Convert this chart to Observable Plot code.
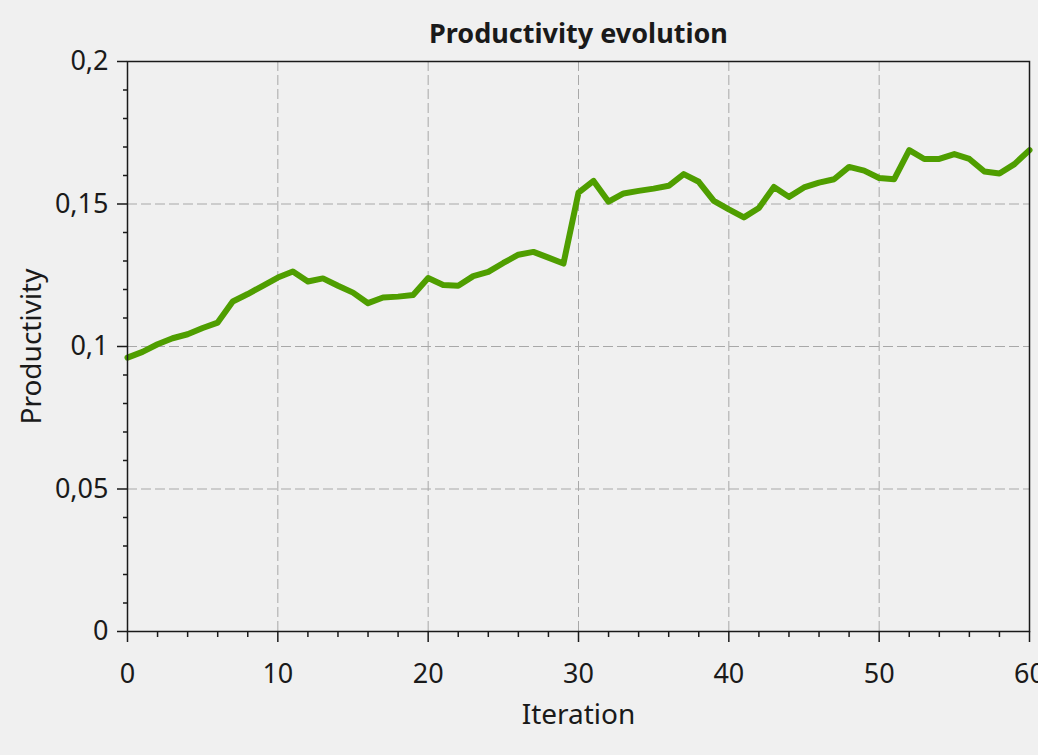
<!DOCTYPE html>
<html><head><meta charset="utf-8">
<script src="https://cdn.jsdelivr.net/npm/d3@7"></script>
<script src="https://cdn.jsdelivr.net/npm/@observablehq/plot@0.6"></script>
<style>
body{margin:0;background:#f0f0f0;}
#chart svg{display:block;}
</style>
</head><body><div id="chart"></div>
<script>
const iterations = [0,1,2,3,4,5,6,7,8,9,10,11,12,13,14,15,16,17,18,19,20,21,22,23,24,25,26,27,28,29,30,31,32,33,34,35,36,37,38,39,40,41,42,43,44,45,46,47,48,49,50,51,52,53,54,55,56,57,58,59,60];
const productivity = [0.0961,0.0981,0.1008,0.1029,0.1043,0.1065,0.1084,0.1158,0.1184,0.1213,0.1242,0.1263,0.1228,0.1239,0.1213,0.1189,0.1152,0.1172,0.1175,0.1181,0.1240,0.1216,0.1213,0.1247,0.1262,0.1293,0.1322,0.1332,0.1312,0.1291,0.1540,0.1581,0.1508,0.1537,0.1546,0.1554,0.1564,0.1605,0.1578,0.1511,0.1481,0.1453,0.1486,0.1560,0.1525,0.1558,0.1575,0.1587,0.1630,0.1617,0.1591,0.1587,0.1689,0.1658,0.1658,0.1675,0.1658,0.1614,0.1607,0.1640,0.1689];
const xTicks = [0,10,20,30,40,50,60];
const xMinorTicks = [2,4,6,8,12,14,16,18,22,24,26,28,32,34,36,38,42,44,46,48,52,54,56,58];
const yTicks = [0,0.05,0.1,0.15,0.2];
const yMinorTicks = [0.01,0.02,0.03,0.04,0.06,0.07,0.08,0.09,0.11,0.12,0.13,0.14,0.16,0.17,0.18,0.19];
const title = "Productivity evolution";
const xLabel = "Iteration";
const yLabel = "Productivity";

const data = iterations.map((x, i) => ({x, y: productivity[i]}));
const fmt = d => String(d).replace(".", ",");
const ink = "#1a1a1a";

const chart = Plot.plot({
  width: 1038,
  height: 755,
  marginLeft: 127,
  marginRight: 9,
  marginTop: 61,
  marginBottom: 124,
  style: {background: "#f0f0f0", fontFamily: "'Noto Sans', sans-serif", fontSize: "27px", color: ink},
  x: {domain: [0, 60], label: null},
  y: {domain: [0, 0.2], label: null},
  marks: [
    Plot.gridX(xTicks, {stroke: "#a8a8a8", strokeOpacity: 1, strokeWidth: 1, strokeDasharray: "10,4"}),
    Plot.gridY(yTicks, {stroke: "#a8a8a8", strokeOpacity: 1, strokeWidth: 1, strokeDasharray: "10,4"}),
    Plot.line(data, {x: "x", y: "y", stroke: "#4f9e00", strokeWidth: 6, strokeLinejoin: "round", strokeLinecap: "round"}),
    Plot.frame({stroke: ink, strokeWidth: 1.5}),
    Plot.axisX(xMinorTicks, {tickSize: 6, tickFormat: () => "", stroke: ink, strokeWidth: 1.5, label: null}),
    Plot.axisX(xTicks, {tickSize: 11, tickPadding: 21, tickFormat: d => String(d), stroke: ink, strokeWidth: 1.5, fill: ink, fontSize: 27, label: null}),
    Plot.axisY(yMinorTicks, {tickSize: 4, tickFormat: () => "", stroke: ink, strokeWidth: 1.5, label: null}),
    Plot.axisY(yTicks, {tickSize: 10, tickPadding: 9, tickFormat: fmt, stroke: ink, strokeWidth: 1.5, fill: ink, fontSize: 27, label: null}),
    Plot.text([title], {frameAnchor: "top", lineAnchor: "middle", dy: -27, fontSize: 27, fontWeight: "bold", fill: ink}),
    Plot.text([xLabel], {frameAnchor: "bottom", lineAnchor: "middle", dy: 84, fontSize: 28, fill: ink}),
    Plot.text([yLabel], {frameAnchor: "left", textAnchor: "middle", lineAnchor: "middle", dx: -95, rotate: -90, fontSize: 28, fill: ink})
  ]
});
document.getElementById("chart").appendChild(chart);
</script>
</body></html>
